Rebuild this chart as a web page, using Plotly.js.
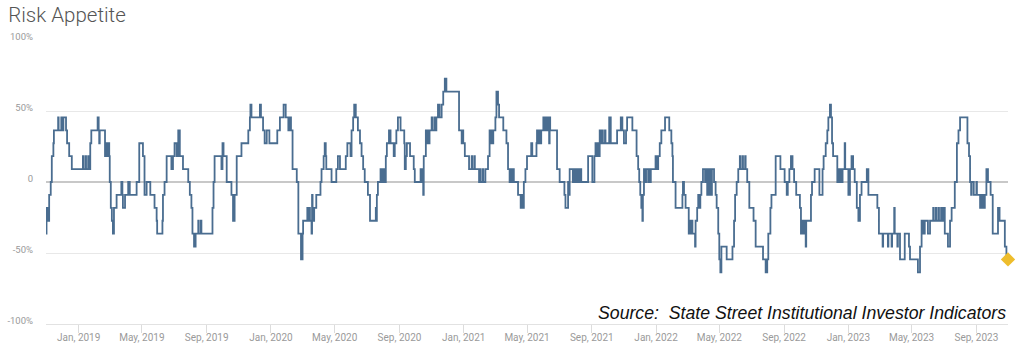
<!DOCTYPE html>
<html>
<head>
<meta charset="utf-8">
<script src="https://cdn.plot.ly/plotly-3.0.1.min.js"></script>
<style>html,body{margin:0;padding:0;background:#fff;}#chart{width:1024px;height:351px;}</style>
</head>
<body>
<div id="chart"></div>
<script>
// Risk Appetite index (%), step changes
const dates2018 = ['2018-10-31','2018-11-01','2018-11-03','2018-11-06','2018-11-09','2018-11-11','2018-11-14','2018-11-15','2018-11-23','2018-11-24','2018-11-29','2018-11-30','2018-12-03','2018-12-08','2018-12-10','2018-12-14','2018-12-19'];
const values2018 = [-36.4,-18.2,-27.3,-9.1,0,18.2,27.3,36.4,45.5,36.4,45.5,36.4,45.5,36.4,27.3,18.2,9.1];

const dates2019 = [
 '2019-01-09','2019-01-10','2019-01-14','2019-01-15','2019-01-19','2019-01-20','2019-01-23','2019-01-25',
 '2019-02-06','2019-02-08','2019-02-09','2019-02-10','2019-02-20','2019-02-23','2019-02-24','2019-02-27','2019-02-28',
 '2019-03-01','2019-03-03','2019-03-05','2019-03-07','2019-03-09','2019-03-14','2019-03-23','2019-03-25','2019-03-26','2019-03-30',
 '2019-04-05','2019-04-08','2019-04-21','2019-04-26',
 '2019-05-03','2019-05-06','2019-05-10','2019-05-17','2019-05-25','2019-05-29','2019-05-30',
 '2019-06-09','2019-06-10','2019-06-13','2019-06-17','2019-06-26','2019-06-29',
 '2019-07-02','2019-07-06','2019-07-09','2019-07-12','2019-07-18','2019-07-28','2019-07-31',
 '2019-08-03','2019-08-05','2019-08-08','2019-08-11','2019-08-16','2019-08-17','2019-08-21','2019-08-22',
 '2019-09-12','2019-09-14','2019-09-16','2019-09-29',
 '2019-10-01','2019-10-03','2019-10-09','2019-10-18','2019-10-21','2019-10-24','2019-10-28',
 '2019-11-06','2019-11-19','2019-11-22','2019-11-23','2019-11-25',
 '2019-12-11','2019-12-13','2019-12-17','2019-12-20','2019-12-24','2019-12-29'];
const values2019 = [
 18.2,9.1,18.2,9.1,18.2,9.1,27.3,36.4,
 45.5,36.4,27.3,36.4,18.2,27.3,18.2,27.3,18.2,
 0,-18.2,-27.3,-36.4,-18.2,-9.1,0,-9.1,-18.2,-9.1,
 0,-9.1,0,27.3,
 18.2,-9.1,0,-9.1,-18.2,-27.3,-36.4,
 -27.3,-9.1,0,18.2,9.1,18.2,
 27.3,18.2,36.4,18.2,9.1,0,-9.1,
 -18.2,-36.4,-45.5,-36.4,-27.3,-36.4,-27.3,-36.4,
 -18.2,0,18.2,9.1,
 27.3,18.2,0,-9.1,-27.3,-9.1,18.2,
 27.3,36.4,45.5,54.5,45.5,
 54.5,45.5,36.4,27.3,36.4,27.3];

const dates2020 = [
 '2020-01-13','2020-01-18','2020-01-25','2020-01-29',
 '2020-02-03','2020-02-06','2020-02-08','2020-02-11','2020-02-19','2020-02-22','2020-02-27',
 '2020-03-01','2020-03-02','2020-03-10','2020-03-11','2020-03-14','2020-03-15','2020-03-18','2020-03-19','2020-03-20','2020-03-23','2020-03-27',
 '2020-04-04','2020-04-06','2020-04-10','2020-04-12','2020-04-14','2020-04-15','2020-04-25',
 '2020-05-04','2020-05-07','2020-05-11','2020-05-22','2020-05-25','2020-05-31',
 '2020-06-02','2020-06-05','2020-06-07','2020-06-10','2020-06-14','2020-06-18','2020-06-21','2020-06-24','2020-06-27',
 '2020-07-03','2020-07-07','2020-07-18','2020-07-19','2020-07-20','2020-07-22','2020-07-27','2020-07-30',
 '2020-08-01','2020-08-04','2020-08-06','2020-08-08','2020-08-12','2020-08-15','2020-08-21','2020-08-23','2020-08-26','2020-08-29',
 '2020-09-03','2020-09-10','2020-09-11','2020-09-13','2020-09-15','2020-09-21','2020-09-28','2020-09-30',
 '2020-10-11','2020-10-14','2020-10-16','2020-10-17','2020-10-21','2020-10-23','2020-10-24','2020-10-27','2020-10-28',
 '2020-11-01','2020-11-02','2020-11-06','2020-11-07','2020-11-10','2020-11-13','2020-11-16','2020-11-20','2020-11-23','2020-11-26','2020-11-29',
 '2020-12-23','2020-12-28','2020-12-30','2020-12-31'];
const values2020 = [
 36.4,45.5,54.5,45.5,
 36.4,45.5,36.4,9.1,0,-36.4,-54.5,
 -36.4,-27.3,-18.2,-27.3,-18.2,-27.3,-36.4,-9.1,-27.3,-18.2,-9.1,
 0,9.1,18.2,27.3,18.2,9.1,0,
 9.1,18.2,9.1,18.2,27.3,18.2,
 36.4,45.5,54.5,45.5,36.4,27.3,18.2,9.1,0,
 -9.1,-27.3,-18.2,-27.3,-9.1,0,9.1,0,
 9.1,0,18.2,27.3,36.4,27.3,18.2,27.3,36.4,45.5,
 36.4,27.3,9.1,18.2,27.3,18.2,9.1,0,
 9.1,0,-9.1,18.2,36.4,27.3,36.4,27.3,36.4,
 45.5,36.4,45.5,36.4,45.5,54.5,45.5,54.5,63.6,72.7,63.6,
 36.4,27.3,36.4,27.3];

const dates2021 = [
 '2021-01-03','2021-01-11','2021-01-16','2021-01-17','2021-01-21','2021-01-22','2021-01-30',
 '2021-02-01','2021-02-02','2021-02-06','2021-02-07','2021-02-11','2021-02-16','2021-02-19','2021-02-21','2021-02-22','2021-02-25','2021-02-26',
 '2021-03-02','2021-03-04','2021-03-07','2021-03-09','2021-03-17','2021-03-23','2021-03-26','2021-03-29','2021-03-30',
 '2021-04-02','2021-04-03','2021-04-06','2021-04-14','2021-04-19','2021-04-21','2021-04-22','2021-04-25','2021-04-28',
 '2021-05-01','2021-05-09','2021-05-11','2021-05-19','2021-05-20','2021-05-22','2021-05-24','2021-05-26','2021-05-28',
 '2021-06-01','2021-06-02','2021-06-05','2021-06-06','2021-06-09','2021-06-12','2021-06-13','2021-06-14','2021-06-27',
 '2021-07-02','2021-07-11','2021-07-13','2021-07-18','2021-07-20','2021-07-21','2021-07-27','2021-07-28','2021-07-31',
 '2021-08-01','2021-08-04','2021-08-05','2021-08-08','2021-08-09','2021-08-12','2021-08-25',
 '2021-09-02','2021-09-06','2021-09-08','2021-09-09','2021-09-12','2021-09-13','2021-09-16','2021-09-18','2021-09-21','2021-09-22','2021-09-26','2021-09-27',
 '2021-10-04','2021-10-07','2021-10-19','2021-10-26','2021-10-29',
 '2021-11-01','2021-11-05','2021-11-07','2021-11-17','2021-11-25','2021-11-28','2021-11-30',
 '2021-12-02','2021-12-04','2021-12-06','2021-12-07','2021-12-09','2021-12-12','2021-12-13','2021-12-17','2021-12-18','2021-12-21','2021-12-22','2021-12-31'];
const values2021 = [
 18.2,9.1,18.2,9.1,18.2,9.1,0,
 9.1,0,9.1,0,9.1,18.2,36.4,27.3,36.4,27.3,36.4,
 45.5,63.6,54.5,45.5,36.4,27.3,9.1,0,9.1,
 0,9.1,0,-9.1,-18.2,-9.1,-18.2,0,9.1,
 18.2,27.3,18.2,27.3,36.4,27.3,36.4,27.3,36.4,
 45.5,36.4,45.5,36.4,45.5,27.3,45.5,36.4,9.1,
 0,-9.1,-18.2,0,-9.1,9.1,0,9.1,0,
 9.1,0,9.1,0,9.1,0,18.2,
 0,18.2,27.3,18.2,27.3,18.2,36.4,27.3,36.4,27.3,36.4,27.3,
 45.5,27.3,36.4,45.5,36.4,
 27.3,36.4,45.5,36.4,18.2,9.1,0,
 -9.1,-18.2,-27.3,-9.1,9.1,0,9.1,0,9.1,0,9.1,18.2];

const dates2022 = [
 '2022-01-02','2022-01-05','2022-01-08','2022-01-11','2022-01-18','2022-01-26','2022-01-30',
 '2022-02-01','2022-02-02','2022-02-07','2022-02-20','2022-02-21','2022-02-23','2022-02-26',
 '2022-03-04','2022-03-06','2022-03-07','2022-03-10','2022-03-11','2022-03-16','2022-03-17','2022-03-20','2022-03-22','2022-03-24','2022-03-26','2022-03-28','2022-03-31',
 '2022-04-04','2022-04-05','2022-04-08','2022-04-09','2022-04-12','2022-04-13','2022-04-16','2022-04-17','2022-04-21','2022-04-24','2022-04-26','2022-04-29',
 '2022-05-01','2022-05-03','2022-05-05','2022-05-15','2022-05-26','2022-05-29','2022-05-31',
 '2022-06-03','2022-06-06','2022-06-09','2022-06-10','2022-06-14','2022-06-15','2022-06-19','2022-06-20','2022-06-23','2022-06-27',
 '2022-07-05','2022-07-09','2022-07-23','2022-07-28','2022-07-31',
 '2022-08-02','2022-08-06','2022-08-08','2022-08-16','2022-08-25',
 '2022-09-02','2022-09-06','2022-09-08','2022-09-11','2022-09-14','2022-09-17','2022-09-20','2022-09-24',
 '2022-10-01','2022-10-03','2022-10-05','2022-10-06','2022-10-09','2022-10-11','2022-10-12','2022-10-13','2022-10-22','2022-10-24','2022-10-29',
 '2022-11-07','2022-11-13','2022-11-15','2022-11-19','2022-11-22','2022-11-24','2022-11-27','2022-11-29',
 '2022-12-01','2022-12-03','2022-12-11','2022-12-13','2022-12-14','2022-12-17','2022-12-18','2022-12-21','2022-12-25','2022-12-26'];
const values2022 = [
 9.1,18.2,27.3,36.4,45.5,36.4,27.3,
 18.2,0,-18.2,-9.1,0,-9.1,-18.2,
 -36.4,-27.3,-36.4,-27.3,-36.4,-45.5,-27.3,-18.2,-9.1,-18.2,-9.1,0,9.1,
 0,9.1,-9.1,9.1,-9.1,9.1,-9.1,9.1,0,-9.1,-18.2,-36.4,
 -54.5,-63.6,-45.5,-54.5,-45.5,-27.3,-9.1,
 0,9.1,18.2,9.1,18.2,9.1,18.2,9.1,0,-18.2,
 -27.3,-45.5,-54.5,-63.6,-54.5,
 -36.4,-18.2,-9.1,18.2,9.1,
 0,-9.1,0,9.1,18.2,9.1,0,-9.1,
 -18.2,-36.4,-27.3,-36.4,-27.3,-36.4,-45.5,-27.3,-9.1,0,9.1,
 -9.1,9.1,18.2,27.3,36.4,45.5,54.5,45.5,
 27.3,18.2,0,9.1,0,9.1,0,9.1,27.3,9.1];

const dates2023 = [
 '2023-01-01','2023-01-04','2023-01-07','2023-01-10','2023-01-13','2023-01-17','2023-01-20','2023-01-23','2023-01-26',
 '2023-02-05','2023-02-08','2023-02-25','2023-02-28',
 '2023-03-07','2023-03-08','2023-03-17','2023-03-18','2023-03-24','2023-03-25','2023-03-29','2023-03-30',
 '2023-04-04','2023-04-05','2023-04-09','2023-04-18','2023-04-26','2023-04-28',
 '2023-05-13','2023-05-17','2023-05-20','2023-05-23','2023-05-26',
 '2023-06-01','2023-06-05','2023-06-11','2023-06-12','2023-06-16','2023-06-17','2023-06-21','2023-06-22','2023-06-26','2023-06-27','2023-06-30',
 '2023-07-03','2023-07-09','2023-07-13','2023-07-16','2023-07-22','2023-07-26','2023-07-29',
 '2023-08-01','2023-08-15','2023-08-18','2023-08-20','2023-08-22','2023-08-23','2023-08-27',
 '2023-09-01','2023-09-02','2023-09-08','2023-09-10','2023-09-11','2023-09-14','2023-09-15','2023-09-17','2023-09-20','2023-09-23','2023-09-28',
 '2023-10-02','2023-10-12','2023-10-15','2023-10-25','2023-10-28','2023-10-31'];
const values2023 = [
 -9.1,9.1,18.2,9.1,0,-18.2,-27.3,-9.1,0,
 9.1,-9.1,-18.2,-36.4,
 -45.5,-36.4,-45.5,-36.4,-45.5,-36.4,-18.2,-36.4,
 -45.5,-36.4,-54.5,-36.4,-45.5,-54.5,
 -63.6,-45.5,-27.3,-36.4,-27.3,
 -36.4,-27.3,-18.2,-27.3,-18.2,-27.3,-18.2,-27.3,-18.2,-27.3,-18.2,
 -36.4,-45.5,-27.3,-18.2,0,27.3,36.4,
 45.5,27.3,18.2,0,-9.1,0,-9.1,
 0,-9.1,-18.2,-9.1,-18.2,-9.1,-18.2,-9.1,9.1,0,-9.1,
 -36.4,-18.2,-27.3,-45.5,-54.5,-54.5];

const yTickVals = [-100, -50, 0, 50, 100];
const yTickText = ['-100%', '-50%', '0', '50%', '100%'];
const titleText = 'Risk Appetite';
const sourceText = 'Source:&nbsp; State Street Institutional Investor Indicators';

const dates = [].concat(dates2018, dates2019, dates2020, dates2021, dates2022, dates2023);
const values = [].concat(values2018, values2019, values2020, values2021, values2022, values2023);

const traces = [
  {type: 'scatter', mode: 'lines', x: dates, y: values,
   line: {shape: 'hv', color: '#4a6d90', width: 1.8}, hoverinfo: 'skip'},
  {type: 'scatter', mode: 'markers', x: [dates[dates.length - 1]], y: [values[values.length - 1]],
   marker: {symbol: 'diamond', size: 11, color: '#eebd2c'}, cliponaxis: false, hoverinfo: 'skip'}
];

const layout = {
  width: 1024, height: 351,
  margin: {l: 46, r: 16, t: 40, b: 27},
  paper_bgcolor: '#ffffff', plot_bgcolor: '#ffffff',
  showlegend: false,
  title: {text: titleText, xref: 'container', yref: 'container', x: 0.008, xanchor: 'left', y: 0.958, yanchor: 'middle',
          font: {family: 'Roboto, sans-serif', size: 20.5, color: '#555555', weight: 300}},
  xaxis: {type: 'date', range: ['2018-10-31', '2023-10-31'], tick0: '2019-01-01', dtick: 'M4', tickformat: '%b, %Y',
          ticks: 'outside', ticklen: 8, tickcolor: '#dcdcdc', showgrid: false, showline: true, linecolor: '#e2e2e2',
          zeroline: false, ticklabelstandoff: -4,
          tickfont: {family: 'Roboto, sans-serif', size: 10, color: '#9a9a9a'}},
  yaxis: {range: [-100, 100], tickvals: yTickVals, ticktext: yTickText, showgrid: true, gridcolor: '#e8e8e8',
          zeroline: true, zerolinecolor: '#c8c8c8', zerolinewidth: 1.5, ticks: '', ticklabelposition: 'outside top',
          ticklabelstandoff: 12, ticklabelshift: 3, showline: false,
          tickfont: {family: 'Roboto, sans-serif', size: 9.5, color: '#9a9a9a'}},
  annotations: [{text: '<i>' + sourceText + '</i>', xref: 'paper', yref: 'paper', x: 1, y: 0.0387,
                 xanchor: 'right', yanchor: 'middle', showarrow: false,
                 font: {family: 'Liberation Sans, Arial, sans-serif', size: 17.7, color: '#111111'}}]
};

Plotly.newPlot('chart', traces, layout, {staticPlot: true, displayModeBar: false});
</script>
</body>
</html>
